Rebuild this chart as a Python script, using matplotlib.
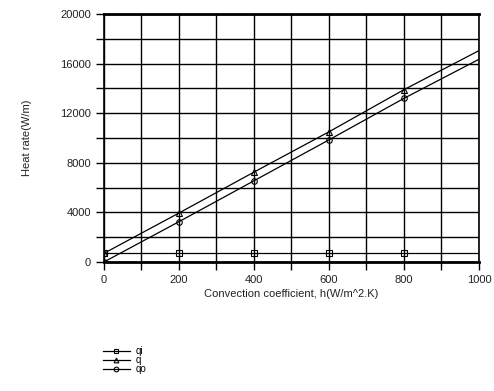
"""Heat rate vs convection coefficient."""

import matplotlib

matplotlib.use("Agg")

import matplotlib.pyplot as plt
from matplotlib.ticker import MultipleLocator

plt.rcParams["font.family"] = ["Liberation Sans", "DejaVu Sans"]

h = [0, 200, 400, 600, 800, 1000]
qi = [700, 700, 700, 700, 700, 700]
q = [700, 3950, 7250, 10500, 13900, 17050]
qo = [0, 3250, 6550, 9850, 13200, 16350]

fig = plt.figure(figsize=(4.94, 3.91), dpi=100)
ax = fig.add_axes([0.2105, 0.33, 0.759, 0.634])

marks = [0, 1, 2, 3, 4]
common = dict(color="black", linewidth=0.9, markersize=4, markerfacecolor="none",
              markeredgewidth=0.8, markevery=marks)
ax.plot(h, qi, marker="s", label="qi", **common)
ax.plot(h, q, marker="^", label="q", **common)
ax.plot(h, qo, marker="o", label="qo", **common)

ax.set_xlim(0, 1000)
ax.set_ylim(0, 20000)
ax.xaxis.set_major_locator(MultipleLocator(200))
ax.xaxis.set_minor_locator(MultipleLocator(100))
ax.yaxis.set_major_locator(MultipleLocator(4000))
ax.yaxis.set_minor_locator(MultipleLocator(2000))
ax.grid(True, which="both", color="black", linewidth=1.0)
ax.tick_params(which="both", direction="out", length=6, width=1.0, labelsize=8,
               color="black", labelcolor="#222222")
for side in ["top", "bottom"]:
    ax.spines[side].set_linewidth(2.0)
for side in ["left", "right"]:
    ax.spines[side].set_linewidth(1.2)

ax.set_xlabel("Convection coefficient, h(W/m^2.K)", fontsize=8, labelpad=3,
              color="#222222")
ax.set_ylabel("Heat rate(W/m)", fontsize=8, labelpad=20, color="#222222")

fig.legend(loc="upper left", bbox_to_anchor=(0.2, 0.125), frameon=False,
           fontsize=7, handlelength=2.8, handletextpad=0.6, labelspacing=-0.1,
           borderaxespad=0.0, markerscale=0.85)

fig.savefig("out.png", dpi=100)
plt.close(fig)
